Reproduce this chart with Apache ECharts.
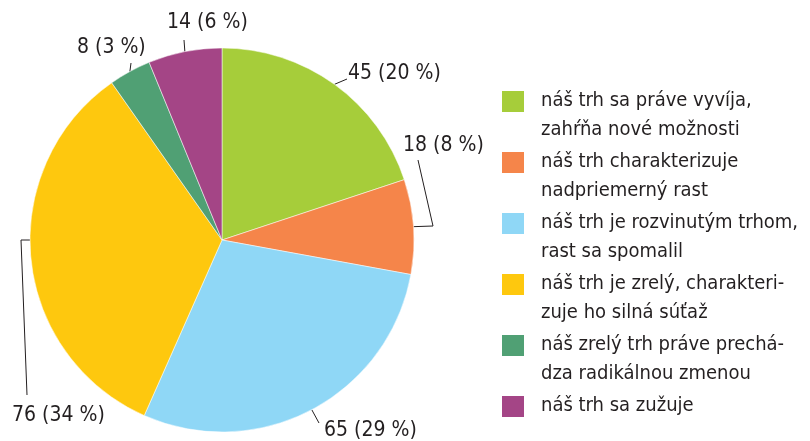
<!DOCTYPE html>
<html><head><meta charset="utf-8">
<script src="https://cdn.jsdelivr.net/npm/echarts@6/dist/echarts.min.js"></script>
<style>html,body{margin:0;padding:0;background:#fff}#c{width:810px;height:441px}</style>
</head><body><div id="c"></div>
<script>
var categories = [
  "náš trh sa práve vyvíja,\nzahŕňa nové možnosti",
  "náš trh charakterizuje\nnadpriemerný rast",
  "náš trh je rozvinutým trhom,\nrast sa spomalil",
  "náš trh je zrelý, charakteri-\nzuje ho silná súťaž",
  "náš zrelý trh práve prechá-\ndza radikálnou zmenou",
  "náš trh sa zužuje"
];
var values = [45, 18, 65, 76, 8, 14];
var colors = ["#a6cd3a", "#f5854a", "#8fd7f6", "#fec80e", "#50a074", "#a44586"];

// label placement (styling only): text anchor and bend points of leader lines
var labelLayoutStyle = [
  {x: 348, y: 74, pts: [[347, 79]]},
  {x: 403, y: 146, pts: [[433, 226], [418, 160]]},
  {x: 324, y: 431, pts: [[319, 423]]},
  {x: 12, y: 416, pts: [[21, 240], [27, 395]], start: [30, 240]},
  {x: 77, y: 48, pts: [[131, 63]]},
  {x: 167, y: 23, pts: [[184, 40]]}
];

var FONT = "'Liberation Sans Narrow', 'Arial Narrow', 'DejaVu Sans Condensed', sans-serif";
var chart = echarts.init(document.getElementById('c'), null, {renderer: 'canvas'});
chart.setOption({
  animation: false,
  color: colors,
  legend: {
    orient: 'vertical',
    left: 500,
    top: 85,
    height: 380,
    padding: 0,
    itemGap: 0,
    itemWidth: 35,
    itemHeight: 59,
    icon: 'path://M0,0L0,0M0,4h24v23h-24zM35,59L35,59',
    formatter: function (n) { return n.indexOf('\n') < 0 ? n + '\n ' : n; },
    textStyle: {fontFamily: FONT, fontSize: 20, lineHeight: 29.5, color: '#231f20', padding: [0, 0, 0, 0]},
    selectedMode: false
  },
  series: [{
    type: 'pie',
    center: [222, 240],
    radius: 192,
    startAngle: 90,
    clockwise: true,
    percentPrecision: 0,
    avoidLabelOverlap: false,
    itemStyle: {borderColor: '#fff', borderWidth: 0.5},
    label: {
      show: true,
      formatter: '{c} ({d} %)',
      overflow: 'none',
      fontFamily: FONT, fontSize: 21, color: '#231f20'
    },
    labelLine: {show: true, lineStyle: {color: '#231f20', width: 1}},
    labelLayout: function (p) {
      var s = labelLayoutStyle[p.dataIndex];
      var start = s.start || (p.labelLinePoints ? p.labelLinePoints[0] : s.pts[0]);
      return {
        x: s.x, y: s.y, align: 'left', verticalAlign: 'middle',
        labelLinePoints: [start].concat(s.pts)
      };
    },
    data: categories.map(function (c, i) { return {name: c, value: values[i]}; })
  }]
});
</script></body></html>
